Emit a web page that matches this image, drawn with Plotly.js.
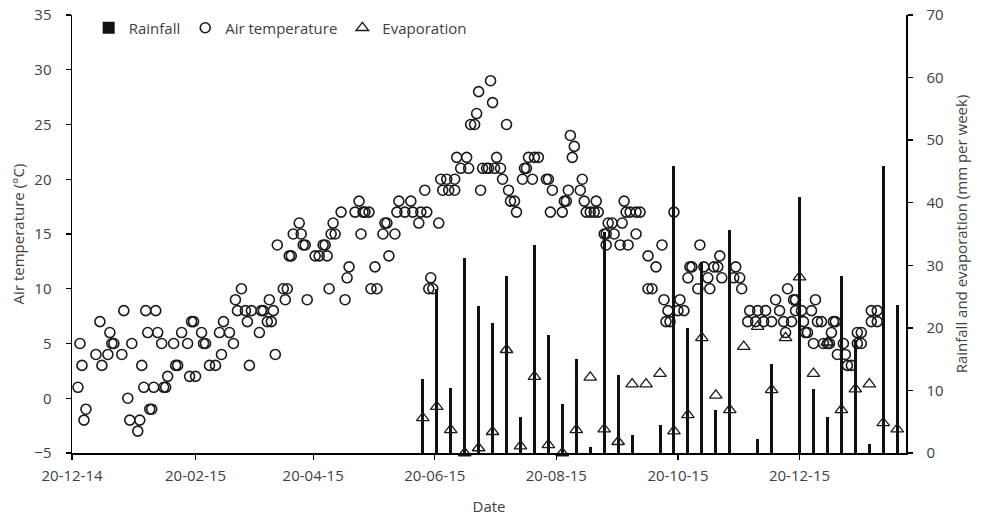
<!DOCTYPE html>
<html>
<head>
<meta charset="utf-8">
<script src="https://cdn.plot.ly/plotly-3.0.1.min.js"></script>
<style>
  html, body { margin: 0; padding: 0; background: #fff; }
  #chart { width: 983px; height: 516px; }
</style>
</head>
<body>
<div id="chart"></div>
<script>
// Air temperature readings (date, degrees C)
const tempDates = [
"2014-12-23","2014-12-24","2014-12-25","2014-12-26","2014-12-27",
"2015-01-01","2015-01-03","2015-01-04","2015-01-07","2015-01-08","2015-01-09","2015-01-10","2015-01-14","2015-01-15","2015-01-17","2015-01-18","2015-01-19","2015-01-22","2015-01-23","2015-01-24","2015-01-25","2015-01-26","2015-01-27","2015-01-28","2015-01-29","2015-01-30","2015-01-31",
"2015-02-01","2015-02-03","2015-02-04","2015-02-05","2015-02-06","2015-02-09","2015-02-10","2015-02-11","2015-02-13","2015-02-16","2015-02-17","2015-02-18","2015-02-19","2015-02-20","2015-02-23","2015-02-24","2015-02-25","2015-02-27",
"2015-03-02","2015-03-04","2015-03-05","2015-03-06","2015-03-09","2015-03-11","2015-03-12","2015-03-13","2015-03-15","2015-03-17","2015-03-18","2015-03-19","2015-03-20","2015-03-24","2015-03-25","2015-03-26","2015-03-28","2015-03-29","2015-03-30","2015-03-31",
"2015-04-01","2015-04-02","2015-04-05","2015-04-06","2015-04-07","2015-04-08","2015-04-09","2015-04-10","2015-04-13","2015-04-14","2015-04-15","2015-04-16","2015-04-17","2015-04-21","2015-04-23","2015-04-25","2015-04-26","2015-04-27","2015-04-28","2015-04-29","2015-04-30",
"2015-05-01","2015-05-04","2015-05-06","2015-05-07","2015-05-08","2015-05-11","2015-05-13","2015-05-14","2015-05-15","2015-05-16","2015-05-18","2015-05-19","2015-05-21","2015-05-22","2015-05-25","2015-05-26","2015-05-27","2015-05-28","2015-05-31",
"2015-06-01","2015-06-02","2015-06-05","2015-06-08","2015-06-09","2015-06-12","2015-06-13","2015-06-15","2015-06-16","2015-06-17","2015-06-18","2015-06-19","2015-06-22","2015-06-23","2015-06-24","2015-06-26","2015-06-27","2015-06-30","2015-06-30",
"2015-07-01","2015-07-03","2015-07-06","2015-07-07","2015-07-08","2015-07-10","2015-07-11","2015-07-12","2015-07-13","2015-07-14","2015-07-16","2015-07-17","2015-07-18","2015-07-19","2015-07-20","2015-07-21","2015-07-23","2015-07-24","2015-07-26","2015-07-27","2015-07-28","2015-07-30","2015-07-31",
"2015-08-03","2015-08-04","2015-08-05","2015-08-06","2015-08-08","2015-08-09","2015-08-11","2015-08-15","2015-08-16","2015-08-17","2015-08-18","2015-08-23","2015-08-24","2015-08-25","2015-08-26","2015-08-27","2015-08-28","2015-08-29",
"2015-09-01","2015-09-02","2015-09-03","2015-09-04","2015-09-06","2015-09-08","2015-09-09","2015-09-10","2015-09-13","2015-09-14","2015-09-14","2015-09-15","2015-09-17","2015-09-18","2015-09-21","2015-09-22","2015-09-23","2015-09-24","2015-09-25","2015-09-26","2015-09-29","2015-09-29",
"2015-10-01","2015-10-05","2015-10-05","2015-10-07","2015-10-09","2015-10-12","2015-10-13","2015-10-14","2015-10-15","2015-10-16","2015-10-18","2015-10-20","2015-10-21","2015-10-23","2015-10-25","2015-10-26","2015-10-27","2015-10-30","2015-10-31",
"2015-11-02","2015-11-04","2015-11-05","2015-11-07","2015-11-09","2015-11-10","2015-11-11","2015-11-17","2015-11-18","2015-11-20","2015-11-21","2015-11-24","2015-11-25","2015-11-28","2015-11-29",
"2015-12-02","2015-12-03","2015-12-06","2015-12-08","2015-12-10","2015-12-12","2015-12-13","2015-12-14","2015-12-16","2015-12-17","2015-12-18","2015-12-18","2015-12-21","2015-12-22","2015-12-23","2015-12-24","2015-12-26","2015-12-27","2015-12-28","2015-12-29","2015-12-31",
"2016-01-01","2016-01-03","2016-01-04","2016-01-05","2016-01-06","2016-01-07","2016-01-08","2016-01-11","2016-01-12","2016-01-13","2016-01-15","2016-01-18","2016-01-18","2016-01-20","2016-01-20","2016-01-25","2016-01-25","2016-01-28","2016-01-28"
];
const airTemperature = [
1,5,3,-2,-1,
4,7,3,4,6,5,5,4,8,0,-2,5,-3,-2,3,1,8,6,-1,-1,1,8,
6,5,1,1,2,5,3,3,6,5,2,7,7,2,6,5,5,3,
3,6,4,7,6,5,9,8,10,8,7,3,8,6,8,8,7,9,7,8,
4,14,10,9,10,13,13,15,16,15,14,14,9,13,13,14,14,13,10,15,16,
15,17,9,11,12,17,18,15,17,17,17,10,12,10,15,16,16,13,15,
17,18,17,18,17,16,17,19,17,10,11,10,16,20,19,20,19,20,19,
22,21,22,21,25,25,26,28,19,21,21,21,29,27,21,22,21,20,25,19,18,18,17,
20,21,21,22,20,22,22,20,20,17,19,17,18,18,19,24,22,23,
19,20,18,17,17,17,18,17,15,15,14,16,16,15,14,16,18,17,14,17,15,17,
17,10,13,10,12,14,9,7,8,7,17,8,9,8,11,12,12,10,14,
12,11,10,12,12,13,11,11,12,11,10,7,8,7,8,
7,8,7,9,8,7,6,10,7,9,9,8,8,7,6,6,8,5,9,7,7,
5,5,5,6,7,7,4,5,4,3,3,6,5,6,5,8,7,8,7
];

// Weekly rainfall and evaporation (mm per week)
const weekDates = [
"2015-06-14","2015-06-21","2015-06-28","2015-07-05","2015-07-12","2015-07-19","2015-07-26",
"2015-08-02","2015-08-09","2015-08-16","2015-08-23","2015-08-30","2015-09-06","2015-09-13",
"2015-09-20","2015-09-27","2015-10-04","2015-10-11","2015-10-18","2015-10-25","2015-11-01",
"2015-11-08","2015-11-15","2015-11-22","2015-11-29","2015-12-06","2015-12-13","2015-12-20",
"2015-12-27","2016-01-03","2016-01-10","2016-01-17","2016-01-24","2016-01-31","2016-02-07"
];
const rainfall = [
11.9,26.2,10.4,31.1,23.5,20.7,28.3,
5.7,33.2,18.9,7.9,15.1,0.9,35.4,
12.5,2.8,0,4.4,45.9,19.9,30.5,
6.9,35.6,0,2.3,14.2,0,40.9,
10.3,5.8,28.3,18.0,1.5,45.9,23.6
];
const evaporation = [
5.6,7.4,3.7,0,0.8,3.4,16.5,
1.1,12.2,1.3,0,3.7,12.1,3.8,
1.8,11.0,11.0,12.7,3.5,6.1,18.4,
9.2,6.9,17.0,20.2,10.1,18.4,28.1,
12.7,17.7,6.9,10.2,11.0,4.8,3.8
];

// Axis ticks
const xTickDates = ["2014-12-20","2015-02-20","2015-04-20","2015-06-20","2015-08-20","2015-10-20","2015-12-20"];
const xTickLabels = ["20-12-14","20-02-15","20-04-15","20-06-15","20-08-15","20-10-15","20-12-15"];

const textColor = "#404040";
const fontFamily = "Open Sans, Liberation Sans, sans-serif";

const traces = [
  {
    type: "bar", name: "Rainfall", x: weekDates, y: rainfall, yaxis: "y2",
    width: 1.5 * 86400000,
    marker: { color: "#111111", line: { width: 0 } }
  },
  {
    type: "scatter", mode: "markers", name: "Air temperature",
    x: tempDates, y: airTemperature, yaxis: "y",
    cliponaxis: false,
    marker: { symbol: "circle-open", size: 10, color: "#1a1a1a", line: { width: 1.6 } }
  },
  {
    type: "scatter", mode: "markers", name: "Evaporation",
    x: weekDates, y: evaporation, yaxis: "y2",
    cliponaxis: false,
    marker: { symbol: "triangle-up-open", size: 11, color: "#1a1a1a", line: { width: 1.3 } }
  }
];

const layout = {
  width: 983, height: 516,
  margin: { l: 72, r: 77, t: 15, b: 63, autoexpand: false },
  paper_bgcolor: "#ffffff", plot_bgcolor: "#ffffff",
  font: { family: fontFamily, size: 15, color: textColor },
  showlegend: true,
  legend: {
    orientation: "h", x: 0.02, y: 1.008, xanchor: "left", yanchor: "top",
    bgcolor: "rgba(0,0,0,0)", font: { size: 15, color: textColor },
    traceorder: "normal", itemwidth: 30
  },
  bargap: 0,
  xaxis: {
    type: "date",
    range: ["2014-12-20", "2016-02-11 10:00"],
    tickmode: "array", tickvals: xTickDates, ticktext: xTickLabels,
    showgrid: false, zeroline: false,
    showline: true, linecolor: "#000", linewidth: 1.5,
    ticks: "outside", ticklen: 5, tickwidth: 1.3, tickcolor: "#000",
    ticklabelstandoff: 3,
    title: { text: "Date", font: { size: 15, color: textColor }, standoff: 22 }
  },
  yaxis: {
    range: [-5, 35], dtick: 5, tick0: -5,
    showgrid: false, zeroline: false,
    showline: true, linecolor: "#000", linewidth: 1.5,
    ticks: "outside", ticklen: 5, tickwidth: 1.3, tickcolor: "#000",
    ticklabelstandoff: 11,
    title: { text: "Air temperature (°C)", font: { size: 15, color: textColor }, standoff: 6 }
  },
  yaxis2: {
    range: [0, 70], dtick: 10, tick0: 0,
    overlaying: "y", side: "right",
    showgrid: false, zeroline: false,
    showline: true, linecolor: "#000", linewidth: 1.5,
    ticks: "outside", ticklen: 5, tickwidth: 1.3, tickcolor: "#000",
    ticklabelstandoff: 11,
    title: { text: "Rainfall and evaporation (mm per week)", font: { size: 15, color: textColor }, standoff: 14 }
  }
};

Plotly.newPlot("chart", traces, layout, { displayModeBar: false, staticPlot: true });
</script>
</body>
</html>
